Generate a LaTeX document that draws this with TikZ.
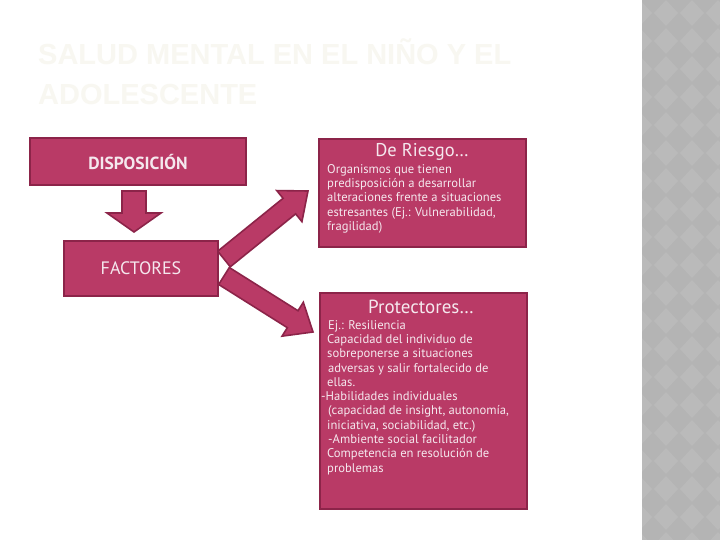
\documentclass[tikz,border=0pt]{standalone}
\usepackage{fontspec}
\setmainfont{PT Sans}
\newfontfamily\titlefont{Liberation Sans}
\usetikzlibrary{calc}
\definecolor{boxfill}{HTML}{B93A66}
\definecolor{boxline}{HTML}{8C2449}
\definecolor{boxtext}{HTML}{F5E8EE}
\definecolor{titlecol}{HTML}{F8F7F1}
\definecolor{stripgray}{HTML}{B4B4B4}
\definecolor{stripdiam}{HTML}{BABABA}
\tikzset{
  box/.style={draw=boxline, fill=boxfill, line width=2pt, inner sep=0pt},
  arrowbox/.style={draw=boxline, fill=boxfill, line width=1.6pt, line join=miter},
  boxlabel/.style={text=boxtext, inner sep=0pt},
  bodytext/.style={text=boxtext, inner sep=0pt, align=left, anchor=north west,
    font=\fontsize{12.6}{14.3}\selectfont},
}
\newcommand{\blockarr}[5]{%
  \coordinate (ba-h) at ($(#2)!#5!(#1)$);
  \filldraw[arrowbox] ($(#1)!#3!90:(#2)$) -- ($(ba-h)!#3!-90:(#1)$) -- ($(ba-h)!#4!-90:(#1)$) -- (#2) -- ($(ba-h)!#4!90:(#1)$) -- ($(ba-h)!#3!90:(#1)$) -- ($(#1)!#3!-90:(#2)$) -- cycle;}
\begin{document}
\begin{tikzpicture}[x=1pt,y=-1pt]
\useasboundingbox (0,0) rectangle (720,540);
\fill[white] (0,0) rectangle (720,540);
% decorative strip
\fill[stripgray] (642,0) rectangle (720,540);
\begin{scope}
  \clip (642,0) rectangle (720,540);
  \foreach \i in {0,...,3}{
    \foreach \j in {0,...,19}{
      \fill[stripdiam] (640+\i*26,\j*28) -- ++(12,13) -- ++(-12,13) -- ++(-12,-13) -- cycle;
    }
  }
\end{scope}
% title
\node[anchor=north west, inner sep=0pt, align=left, text=titlecol,
  font=\titlefont\bfseries\fontsize{29}{40}\selectfont] (title) at (38,38)
  {SALUD MENTAL EN EL NIÑO Y EL\\ADOLESCENTE};
% connectors (block arrows)
\coordinate (d1) at (134,191);
\coordinate (d2) at (134,232);
\blockarr{d1}{d2}{12pt}{27pt}{19pt}
\coordinate (u1) at (224,259);
\coordinate (u2) at (308,191);
\blockarr{u1}{u2}{10pt}{20pt}{24pt}
\coordinate (w1) at (224,276);
\coordinate (w2) at (313,332);
\blockarr{w1}{w2}{10pt}{20pt}{24pt}
% boxes
\node[box, minimum width=216pt, minimum height=47pt] (disp) at (138,162) {};
\node[boxlabel, font=\bfseries\fontsize{17.5}{20}\selectfont] at (disp.center) {DISPOSICIÓN};
\node[box, minimum width=154pt, minimum height=55pt] (fac) at (141,268.5) {};
\node[boxlabel, font=\fontsize{18}{20}\selectfont] at (fac.center) {FACTORES};
\node[box, minimum width=207pt, minimum height=108pt, anchor=north west] (riesgo) at (318,138) {};
\node[boxlabel, font=\fontsize{18.5}{20}\selectfont] (rt) at (422,152) {De Riesgo…};
\node[bodytext] (rb) at (327,164) {Organismos que tienen\\predisposición a desarrollar\\alteraciones frente a situaciones\\estresantes (Ej.: Vulnerabilidad,\\fragilidad)};
\node[box, minimum width=207pt, minimum height=216pt, anchor=north west] (prot) at (319,292) {};
\node[boxlabel, font=\fontsize{19}{20}\selectfont] (pt) at (421,307) {Protectores…};
\node[bodytext] (pb) at (327,320) {\hspace*{1pt}Ej.: Resiliencia\\Capacidad del individuo de\\sobreponerse a situaciones\\\hspace*{1pt}adversas y salir fortalecido de\\ellas.\\\hspace*{-6pt}-Habilidades individuales\\\hspace*{1pt}(capacidad de insight, autonomía,\\iniciativa, sociabilidad, etc.)\\\hspace*{1pt}-Ambiente social facilitador\\Competencia en resolución de\\problemas};
\end{tikzpicture}
\end{document}
